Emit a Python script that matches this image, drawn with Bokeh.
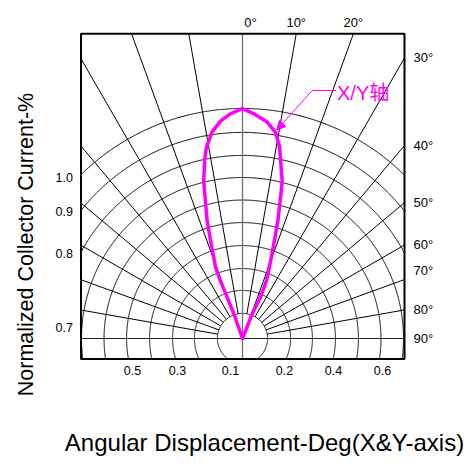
import numpy as np
from bokeh.plotting import figure
from bokeh.models import Range1d, Arrow, NormalHead
from bokeh.core.properties import value
from bokeh.embed import file_html
from bokeh.resources import INLINE

# ---------------- data ----------------
# radiation pattern (angle in degrees from axis, relative intensity)
curve_angle_deg = [-20.5, -19.4, -20.3, -21.0, -20.7, -18.3, -16.7, -14.4, -13.8, -12.0,
                   -10.7, -8.4, -5.8, -3.1, 0.0, 2.9, 6.5, 9.1, 11.0, 12.7,
                   14.1, 14.7, 16.7, 18.3, 21.1, 22.5, 23.5, 21.4, 21.4]
curve_rel = [0.0, 0.114, 0.191, 0.272, 0.331, 0.434, 0.536, 0.664, 0.707, 0.791,
             0.846, 0.907, 0.950, 0.978, 1.0, 0.978, 0.947, 0.908, 0.847, 0.764,
             0.708, 0.665, 0.536, 0.434, 0.317, 0.273, 0.196, 0.115, 0.0]

grid_radii = [0.109, 0.209, 0.304, 0.404, 0.504, 0.602, 0.700, 0.796, 0.896, 1.0]
spoke_angles = [-80, -70, -60, -50, -40, -30, -20, -10, 10, 20, 30, 40, 50, 60, 70, 80]

top_labels = ["0°", "10°", "20°"]
top_label_angles = [0, 10, 20]
right_labels = ["30°", "40°", "50°", "60°", "70°", "80°", "90°"]
right_label_angles = [30, 40, 50, 60, 70, 80, 90]
left_labels = ["1.0", "0.9", "0.8", "0.7"]
bottom_labels = ["0.5", "0.3", "0.1", "0.2", "0.4", "0.6"]
annotation_text = "X/Y轴"
x_title = "Angular Displacement-Deg(X&Y-axis)"
y_title = "Normalized Collector Current-%"

# ---------------- layout ----------------
PX = 230.0            # pixels per unit radius
CX, CY = 242.0, 338.0  # pattern centre in page pixels
OFF = 0                # page offset of the figure

def ux(px):
    return (px - CX) / PX

def uy(py):
    return (CY - py) / PX

BOX_L, BOX_R = ux(80.5), ux(404.0)
BOX_T, BOX_B = uy(33.3), uy(358.5)

W, H = 468, 466
p = figure(width=W, height=H, output_backend="svg", toolbar_location=None,
           x_range=Range1d(ux(OFF), ux(OFF + W)), y_range=Range1d(uy(OFF + H), uy(OFF)),
           min_border=0)
p.axis.visible = False
p.grid.visible = False
p.outline_line_color = None
p.background_fill_color = "white"
p.border_fill_color = "white"

def inside(x, y):
    return (x >= BOX_L) & (x <= BOX_R) & (y >= BOX_B) & (y <= BOX_T)

# circles clipped to the box
t = np.linspace(0, 2 * np.pi, 1441)
xs_c, ys_c = [], []
for r in grid_radii:
    x = r * np.sin(t)
    y = r * np.cos(t)
    m = inside(x, y)
    x = np.where(m, x, np.nan)
    y = np.where(m, y, np.nan)
    xs_c.append(x)
    ys_c.append(y)
p.multi_line(xs_c, ys_c, line_color="black", line_width=1)

# spokes from inner circle to box edge
xs_s, ys_s = [], []
r0 = grid_radii[0]
for a in spoke_angles:
    th = np.radians(a)
    s, c = np.sin(th), np.cos(th)
    t_top = BOX_T / c
    t_side = (BOX_R if s > 0 else -BOX_L) / abs(s)
    te = min(t_top, t_side)
    xs_s.append([r0 * s, te * s])
    ys_s.append([r0 * c, te * c])
p.multi_line(xs_s, ys_s, line_color="black", line_width=1)

# horizontal and vertical axes
p.line([BOX_L, BOX_R], [0, 0], line_color="#222222", line_width=1)
p.line([0, 0], [BOX_B, BOX_T], line_color="#707070", line_width=1.3)

# box
p.quad(left=BOX_L, right=BOX_R, top=BOX_T, bottom=BOX_B, fill_color=None,
       line_color="black", line_width=2)

# pattern curve
ang = np.radians(np.array(curve_angle_deg))
rel = np.array(curve_rel)
p.line(rel * np.sin(ang), rel * np.cos(ang), line_color="#FF00FF", line_width=3.5,
       line_join="round", line_cap="round")

# annotation arrow
elbow = (ux(311.7), uy(90.0))
tip_a, tip_r = np.radians(9.3), 0.918
tip = (tip_r * np.sin(tip_a), tip_r * np.cos(tip_a))
p.line([elbow[0], ux(335.5)], [elbow[1], elbow[1]], line_color="#FF00FF", line_width=1)
p.add_layout(Arrow(x_start=elbow[0], y_start=elbow[1], x_end=tip[0], y_end=tip[1],
                   line_color="#FF00FF", line_width=1,
                   end=NormalHead(size=9, fill_color="#FF00FF", line_color="#FF00FF",
                                  line_width=1)))
FONT = value("Liberation Sans")
p.text([ux(336.5)], [uy(92.5)], text=[annotation_text], text_color="#FF00FF",
       text_font=value("Liberation Sans, Noto Sans CJK SC"), text_font_size="20px",
       text_align="left", text_baseline="middle")

# top angle labels
tx = [BOX_T * np.tan(np.radians(a)) for a in top_label_angles]
tx[0] += ux(250) - ux(242)
p.text(tx, [uy(22)] * 3, text=top_labels, text_font=FONT, text_font_size="13px",
       text_align="center", text_baseline="middle", text_color="black")

# right angle labels
ry = []
for a in right_label_angles:
    ry.append(BOX_R / np.tan(np.radians(a)) if a < 90 else 0.0)
ry[4] = uy(270)
p.text([ux(413)] * len(ry), ry, text=right_labels, text_font=FONT, text_font_size="13px",
       text_align="left", text_baseline="middle", text_color="black")

# left labels
ly = [uy(176.5), uy(210.5), uy(252.5), uy(326.5)]
p.text([ux(72.5)] * 4, ly, text=left_labels, text_font=FONT, text_font_size="12.5px",
       text_align="right", text_baseline="middle", text_color="black")

# bottom labels
bx = [ux(132), ux(177), ux(230), ux(284), ux(333), ux(382)]
p.text(bx, [uy(369.5)] * 6, text=bottom_labels, text_font=FONT, text_font_size="12.5px",
       text_align="center", text_baseline="middle", text_color="black")

# titles
p.text([ux(264)], [uy(442)], text=[x_title], text_font=FONT, text_font_size="24px",
       text_align="center", text_baseline="middle", text_color="black")
p.text([ux(25)], [uy(244)], text=[y_title], text_font=FONT, text_font_size="21.5px",
       text_align="center", text_baseline="middle", text_color="black", angle=np.pi / 2)

open("out.html", "w").write(file_html(p, INLINE))
